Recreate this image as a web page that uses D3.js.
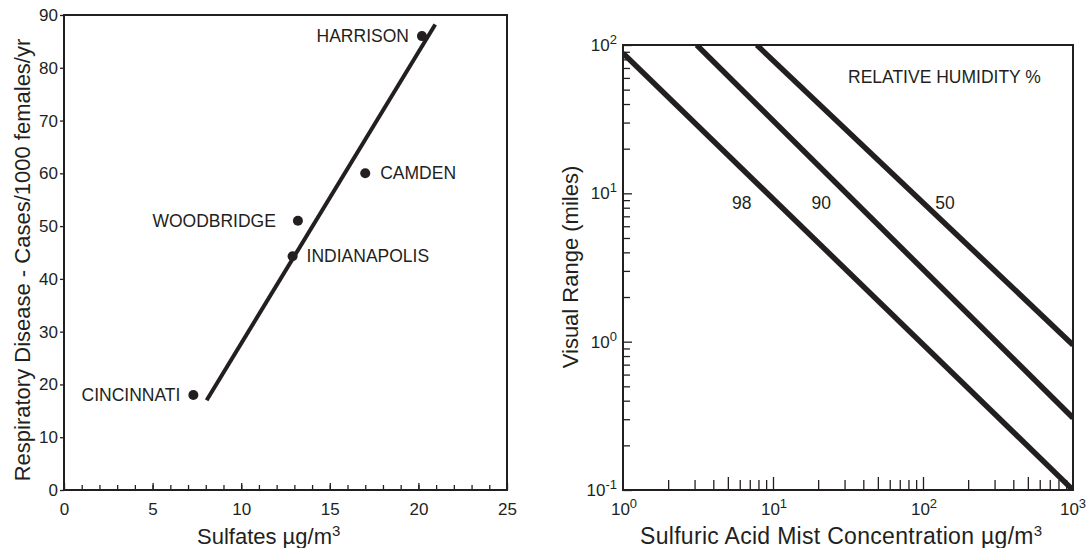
<!DOCTYPE html>
<html>
<head>
<meta charset="utf-8">
<script src="https://cdn.jsdelivr.net/npm/d3@7"></script>
<style>
  body { margin: 0; background: #fff; }
  svg text { font-family: "Liberation Sans", Arial, Helvetica, sans-serif; fill: #231f20; }
  .axis path { display: none; }
  .axis line { stroke: #231f20; stroke-width: 1.3; }
</style>
</head>
<body>
<svg width="1088" height="548"></svg>
<script>
// left panel: respiratory disease vs sulfates
const cities = ["HARRISON", "CAMDEN", "WOODBRIDGE", "INDIANAPOLIS", "CINCINNATI"];
const sulfates = [20.2, 17.0, 13.2, 12.9, 7.3];
const cases = [86, 60, 51, 44.3, 18];
const fitSulfates = [8.05, 20.95];
const fitCases = [17, 88.2];
const sulfateTicks = [0, 5, 10, 15, 20, 25];
const caseTicks = [0, 10, 20, 30, 40, 50, 60, 70, 80, 90];

// right panel: visual range vs acid mist
const humidity = ["98", "90", "50"];
const mistConc = [[1, 1000], [3.1, 1000], [7.8, 1000]];
const visRange = [[88, 0.1], [100, 0.306], [100, 0.95]];
const humLabelConc = [6.2, 21, 140];
const humLabelRange = 8.6;
const decadesX = [1, 10, 100, 1000];
const decadesY = [0.1, 1, 10, 100];

const svg = d3.select("svg");
const ink = "#231f20";

// ---------- left ----------
const xL = d3.scaleLinear().domain([0, 25]).range([64, 507]);
const yL = d3.scaleLinear().domain([0, 90]).range([490, 15]);

svg.append("g").attr("class", "axis")
	.attr("transform", "translate(0,490)")
	.call(d3.axisBottom(xL).tickValues(d3.range(1, 25)).tickSize(-5).tickFormat(""));
svg.append("g").attr("class", "axis")
	.attr("transform", "translate(0,490)")
	.call(d3.axisBottom(xL).tickValues(sulfateTicks).tickSize(-7).tickPadding(13))
	.selectAll("text").attr("font-size", 17).attr("fill", ink);

svg.append("g").attr("class", "axis")
	.attr("transform", "translate(64,0)")
	.call(d3.axisLeft(yL).tickValues(caseTicks).tickSize(4).tickPadding(2))
	.selectAll("text").attr("font-size", 17).attr("fill", ink);

svg.append("rect")
	.attr("x", xL(0)).attr("y", yL(90))
	.attr("width", xL(25) - xL(0)).attr("height", yL(0) - yL(90))
	.attr("fill", "none").attr("stroke", ink).attr("stroke-width", 2);

svg.append("line")
	.attr("x1", xL(fitSulfates[0])).attr("y1", yL(fitCases[0]))
	.attr("x2", xL(fitSulfates[1])).attr("y2", yL(fitCases[1]))
	.attr("stroke", ink).attr("stroke-width", 4);

svg.append("g").selectAll("circle")
	.data(cities)
	.enter().append("circle")
	.attr("cx", (d, i) => xL(sulfates[i]))
	.attr("cy", (d, i) => yL(cases[i]))
	.attr("r", 5)
	.attr("fill", ink);

// label placement next to each dot
const labelDx = [-13, 15, -22, 14, -13];
svg.append("g").selectAll("text")
	.data(cities)
	.enter().append("text")
	.attr("x", (d, i) => xL(sulfates[i]) + labelDx[i])
	.attr("y", (d, i) => yL(cases[i]) + 6)
	.attr("text-anchor", (d, i) => labelDx[i] < 0 ? "end" : "start")
	.attr("font-size", 17.5)
	.text(d => d);

svg.append("text")
	.attr("x", 197).attr("y", 544)
	.attr("font-size", 22)
	.text("Sulfates µg/m")
	.append("tspan").attr("dy", -8).attr("font-size", 15).text("3");

svg.append("text")
	.attr("transform", "translate(30,260) rotate(-90)")
	.attr("text-anchor", "middle")
	.attr("font-size", 22)
	.text("Respiratory Disease - Cases/1000 females/yr");

// ---------- right ----------
const xR = d3.scaleLog().domain([1, 1000]).range([623, 1073]);
const yR = d3.scaleLog().domain([0.1, 100]).range([490, 45]);

const minorsX = [];
[1, 10, 100].forEach(d => { for (let m = 2; m <= 9; m++) minorsX.push(d * m); });
const longX = minorsX.filter(v => [5, 10, 50, 100, 500].includes(v)).concat([10, 100]);
const minorsY = [];
[0.1, 1, 10].forEach(d => { for (let m = 2; m <= 9; m++) minorsY.push(d * m); });

svg.append("g").attr("class", "axis")
	.attr("transform", "translate(0,490)")
	.call(d3.axisBottom(xR).tickValues(minorsX.filter(v => !longX.includes(v))).tickSize(-10).tickFormat(""));
svg.append("g").attr("class", "axis")
	.attr("transform", "translate(0,490)")
	.call(d3.axisBottom(xR).tickValues(longX).tickSize(-13).tickFormat(""));
svg.append("g").attr("class", "axis")
	.attr("transform", "translate(623,0)")
	.call(d3.axisLeft(yR).tickValues(minorsY).tickSize(-7).tickFormat(""));
svg.append("g").attr("class", "axis")
	.attr("transform", "translate(623,0)")
	.call(d3.axisLeft(yR).tickValues(decadesY).tickSize(-9).tickFormat(""));

svg.append("rect")
	.attr("x", xR(1)).attr("y", yR(100))
	.attr("width", xR(1000) - xR(1)).attr("height", yR(0.1) - yR(100))
	.attr("fill", "none").attr("stroke", ink).attr("stroke-width", 2);

// power-of-ten labels
function pow10(sel) {
	sel.text("10")
		.append("tspan").attr("dy", -7).attr("font-size", 13)
		.text(d => Math.round(Math.log10(d)));
}
svg.append("g").selectAll("text")
	.data(decadesX)
	.enter().append("text")
	.attr("x", d => Math.min(xR(d) + 1, 1073))
	.attr("y", 515)
	.attr("text-anchor", "middle")
	.attr("font-size", 17)
	.call(pow10);
svg.append("g").selectAll("text")
	.data(decadesY)
	.enter().append("text")
	.attr("x", 617).attr("y", d => yR(d) + 6)
	.attr("text-anchor", "end")
	.attr("font-size", 17)
	.call(pow10);

svg.append("clipPath").attr("id", "clipR")
	.append("rect")
	.attr("x", xR(1)).attr("y", yR(100))
	.attr("width", xR(1000) - xR(1)).attr("height", yR(0.1) - yR(100));

const line = d3.line().x(d => xR(d[0])).y(d => yR(d[1]));
svg.append("g").attr("clip-path", "url(#clipR)")
	.selectAll("path")
	.data(humidity)
	.enter().append("path")
	.attr("d", (d, i) => line(mistConc[i].map((c, j) => [c, visRange[i][j]])))
	.attr("fill", "none")
	.attr("stroke", ink)
	.attr("stroke-width", 5.5);

svg.append("g").selectAll("text")
	.data(humidity)
	.enter().append("text")
	.attr("x", (d, i) => xR(humLabelConc[i]))
	.attr("y", yR(humLabelRange) + 6)
	.attr("text-anchor", "middle")
	.attr("font-size", 17.5)
	.text(d => d);

svg.append("text")
	.attr("x", 848).attr("y", 83)
	.attr("font-size", 17.5)
	.text("RELATIVE HUMIDITY %");

svg.append("text")
	.attr("x", 640).attr("y", 544)
	.attr("font-size", 23)
	.attr("letter-spacing", 0.3)
	.text("Sulfuric Acid Mist Concentration µg/m")
	.append("tspan").attr("dy", -8).attr("font-size", 15).text("3");

svg.append("text")
	.attr("transform", "translate(578,267) rotate(-90)")
	.attr("text-anchor", "middle")
	.attr("font-size", 22)
	.text("Visual Range (miles)");
</script>
</body>
</html>
